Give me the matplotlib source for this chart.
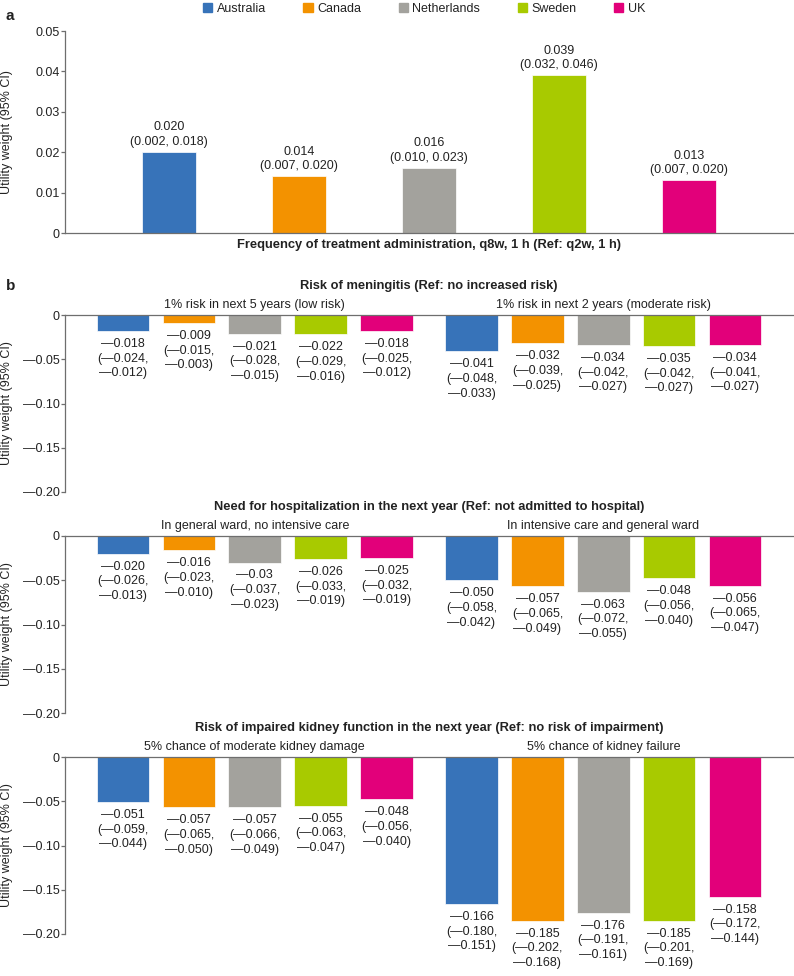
import matplotlib
matplotlib.use("Agg")
import matplotlib.pyplot as plt
import numpy as np
from matplotlib.patches import Patch

plt.rcParams['font.family'] = ['Liberation Sans', 'DejaVu Sans']
plt.rcParams['font.size'] = 9

TXT = "#222222"
AXC = "#6e6e6e"
DASH = "\u2014"

countries = ["Australia", "Canada", "Netherlands", "Sweden", "UK"]
colors = ["#3773B9", "#F39200", "#A3A29D", "#A8CA00", "#E2007A"]

# panel a: q8w vs q2w
freq_est = ["0.020", "0.014", "0.016", "0.039", "0.013"]
freq_lo = ["0.002", "0.007", "0.010", "0.032", "0.007"]
freq_hi = ["0.018", "0.020", "0.023", "0.046", "0.020"]

# panel b: meningitis
men_low_est = ["-0.018", "-0.009", "-0.021", "-0.022", "-0.018"]
men_low_lo = ["-0.024", "-0.015", "-0.028", "-0.029", "-0.025"]
men_low_hi = ["-0.012", "-0.003", "-0.015", "-0.016", "-0.012"]
men_mod_est = ["-0.041", "-0.032", "-0.034", "-0.035", "-0.034"]
men_mod_lo = ["-0.048", "-0.039", "-0.042", "-0.042", "-0.041"]
men_mod_hi = ["-0.033", "-0.025", "-0.027", "-0.027", "-0.027"]

# panel b: hospitalization
hosp_gen_est = ["-0.020", "-0.016", "-0.03", "-0.026", "-0.025"]
hosp_gen_lo = ["-0.026", "-0.023", "-0.037", "-0.033", "-0.032"]
hosp_gen_hi = ["-0.013", "-0.010", "-0.023", "-0.019", "-0.019"]
hosp_icu_est = ["-0.050", "-0.057", "-0.063", "-0.048", "-0.056"]
hosp_icu_lo = ["-0.058", "-0.065", "-0.072", "-0.056", "-0.065"]
hosp_icu_hi = ["-0.042", "-0.049", "-0.055", "-0.040", "-0.047"]

# panel b: kidney
kid_mod_est = ["-0.051", "-0.057", "-0.057", "-0.055", "-0.048"]
kid_mod_lo = ["-0.059", "-0.065", "-0.066", "-0.063", "-0.056"]
kid_mod_hi = ["-0.044", "-0.050", "-0.049", "-0.047", "-0.040"]
kid_fail_est = ["-0.166", "-0.185", "-0.176", "-0.185", "-0.158"]
kid_fail_lo = ["-0.180", "-0.202", "-0.191", "-0.201", "-0.172"]
kid_fail_hi = ["-0.151", "-0.168", "-0.161", "-0.169", "-0.144"]

titles = ["Risk of meningitis (Ref: no increased risk)",
          "Need for hospitalization in the next year (Ref: not admitted to hospital)",
          "Risk of impaired kidney function in the next year (Ref: no risk of impairment)"]
subtitles = [("1% risk in next 5 years (low risk)", "1% risk in next 2 years (moderate risk)"),
             ("In general ward, no intensive care", "In intensive care and general ward"),
             ("5% chance of moderate kidney damage", "5% chance of kidney failure")]
groups = [((men_low_est, men_low_lo, men_low_hi), (men_mod_est, men_mod_lo, men_mod_hi)),
          ((hosp_gen_est, hosp_gen_lo, hosp_gen_hi), (hosp_icu_est, hosp_icu_lo, hosp_icu_hi)),
          ((kid_mod_est, kid_mod_lo, kid_mod_hi), (kid_fail_est, kid_fail_lo, kid_fail_hi))]

W, H = 794, 976
fig = plt.figure(figsize=(W / 100, H / 100), dpi=100)


def px_axes(left, top, right, bottom):
    return fig.add_axes([left / W, 1 - bottom / H, (right - left) / W, (bottom - top) / H])


def style_axis(ax):
    for s in ax.spines.values():
        s.set_color(AXC)
        s.set_linewidth(0.9)
    ax.tick_params(axis='y', length=3, width=0.9, color=AXC, labelcolor=TXT, pad=1)
    ax.set_xticks([])
    ax.set_ylabel("Utility weight (95% CI)", color=TXT)
    ax.yaxis.set_label_coords(-0.072, 0.5)


# ---- panel a ----
ax = px_axes(65, 31, 793, 233)
style_axis(ax)
ax.spines['top'].set_visible(False)
ax.spines['right'].set_visible(False)
xs = np.arange(5)
vals = [float(v) for v in freq_est]
ax.bar(xs, vals, width=0.41, color=colors, edgecolor='white', linewidth=0.5)
for x, v, e, lo, hi in zip(xs, vals, freq_est, freq_lo, freq_hi):
    ax.annotate(f"{e}\n({lo}, {hi})", (x, v), xytext=(0, 3), textcoords='offset points',
                ha='center', va='bottom', linespacing=1.3, color=TXT)
ax.set_xlim(-0.8, 4.8)
ax.set_ylim(0, 0.05)
ax.set_yticks([0, 0.01, 0.02, 0.03, 0.04, 0.05])
ax.set_yticklabels(["0", "0.01", "0.02", "0.03", "0.04", "0.05"])
ax.set_xlabel("Frequency of treatment administration, q8w, 1 h (Ref: q2w, 1 h)",
              fontweight='bold', fontsize=9.3, color=TXT, labelpad=4)

fig.legend(handles=[Patch(color=c, label=n) for c, n in zip(colors, countries)],
           loc='center', bbox_to_anchor=(0.534, 1 - 9 / H), ncol=5, frameon=False,
           handlelength=0.75, handleheight=0.75, handletextpad=0.35, columnspacing=3.0,
           labelcolor=TXT)

fig.text(6 / W, 1 - 16 / H, "a", fontweight='bold', fontsize=11, va='center', color=TXT)
fig.text(6 / W, 1 - 286 / H, "b", fontweight='bold', fontsize=11, va='center', color=TXT)

# ---- panel b ----
offsets = [0, 5.29]
tops = [315, 536, 757]
for i in range(3):
    ax = px_axes(65, tops[i], 793, tops[i] + 177)
    style_axis(ax)
    ax.spines['bottom'].set_visible(False)
    ax.spines['right'].set_visible(False)
    for g in range(2):
        est, lo, hi = groups[i][g]
        xs = offsets[g] + np.arange(5)
        vals = [float(v) for v in est]
        ax.bar(xs, vals, width=0.8, color=colors, edgecolor='white', linewidth=0.5)
        for x, v, e, l, h in zip(xs, vals, est, lo, hi):
            txt = f"{e}\n({l},\n{h})".replace("-", DASH)
            ax.annotate(txt, (x, v), xytext=(0, -5), textcoords='offset points',
                        ha='center', va='top', linespacing=1.3, color=TXT,
                        annotation_clip=False)
        ax.annotate(subtitles[i][g], (offsets[g] + 2, 0), xytext=(0, 3),
                    textcoords='offset points', ha='center', va='bottom', color=TXT,
                    annotation_clip=False)
    ax.set_xlim(-0.88, 10.17)
    ax.set_ylim(-0.2, 0)
    ticks = [0, -0.05, -0.10, -0.15, -0.20]
    ax.set_yticks(ticks)
    ax.set_yticklabels(["0"] + [DASH + f"{abs(t):.2f}" for t in ticks[1:]])
    ax.set_title(titles[i], fontweight='bold', fontsize=9.3, color=TXT, pad=19)

fig.savefig("out.png", dpi=100)
